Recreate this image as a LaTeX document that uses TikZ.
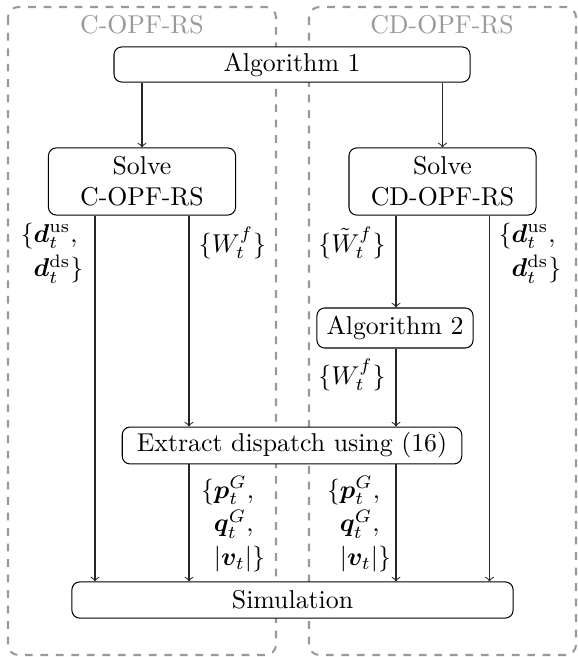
\documentclass[tikz,border=0pt]{standalone}
\usepackage{amsmath,bm}
\definecolor{regiongray}{gray}{0.6}
\begin{document}
\begin{tikzpicture}[x=0.3876pt,y=-0.3876pt,
  box/.style={draw, fill=white, rounded corners=3pt, inner xsep=2pt, inner ysep=1pt, align=center},
  region/.style={draw=regiongray, dashed, line width=0.8pt, rounded corners=4pt},
  title/.style={text=regiongray},
  arr/.style={->, >=to, draw=black!85},
  lab/.style={inner sep=0pt, align=left}]
\useasboundingbox (0,0) rectangle (577,657);
\draw[region] (8,7) rectangle (276,655);
\draw[region] (309,7) rectangle (576,655);
\node[title] (tC) at (142,25) {C-OPF-RS};
\node[title] (tCD) at (442,25) {CD-OPF-RS};
\node[box, minimum width=138pt, minimum height=13.6pt] (alg1) at (292,64.5) {Algorithm 1};
\node[box, minimum width=72.5pt, minimum height=26pt] (solveC) at (142,181.5) {Solve\\C-OPF-RS};
\node[box, minimum width=72.5pt, minimum height=26pt] (solveCD) at (442.5,181.5) {Solve\\CD-OPF-RS};
\node[box, minimum width=60.5pt, minimum height=15.5pt] (alg2) at (395,328) {Algorithm 2};
\node[box, minimum width=131.6pt, minimum height=14.3pt] (extract) at (292,445.5) {Extract dispatch using (16)};
\node[box, minimum width=171pt, minimum height=14pt] (sim) at (292.5,600) {Simulation};
\coordinate (xa) at (95,0);
\coordinate (xb) at (189,0);
\coordinate (xc) at (396,0);
\coordinate (xd) at (489.5,0);
\draw[arr] (alg1.south -| solveC.north) -- (solveC.north);
\draw[arr] (alg1.south -| solveCD.north) -- (solveCD.north);
\draw[arr] (solveC.south -| xa) -- (sim.north -| xa);
\draw[arr] (solveC.south -| xb) -- (extract.north -| xb);
\draw[arr] (solveCD.south -| xc) -- (alg2.north -| xc);
\draw[arr] (solveCD.south -| xd) -- (sim.north -| xd);
\draw[arr] (alg2.south -| xc) -- (extract.north -| xc);
\draw[arr] (extract.south -| xb) -- (sim.north -| xb);
\draw[arr] (extract.south -| xc) -- (sim.north -| xc);
\node[lab] (dL) at (52,253) {$\{\bm{d}_t^{\mathrm{us}},$\\[1.5pt]$\phantom{\{}\bm{d}_t^{\mathrm{ds}}\}$};
\node[lab] (w1) at (232.5,243) {$\{W_t^f\}$};
\node[lab] (wt) at (352,243) {$\{\tilde{W}_t^f\}$};
\node[lab] (dR) at (530,253) {$\{\bm{d}_t^{\mathrm{us}},$\\[1.5pt]$\phantom{\{}\bm{d}_t^{\mathrm{ds}}\}$};
\node[lab] (w2) at (352,375) {$\{W_t^f\}$};
\node[lab] (pL) at (233,524) {$\{\bm{p}_t^G,$\\[1pt]$\phantom{\{}\bm{q}_t^G,$\\[1pt]$\phantom{\{}|\bm{v}_t|\}$};
\node[lab] (pR) at (359,524) {$\{\bm{p}_t^G,$\\[1pt]$\phantom{\{}\bm{q}_t^G,$\\[1pt]$\phantom{\{}|\bm{v}_t|\}$};
\end{tikzpicture}
\end{document}
